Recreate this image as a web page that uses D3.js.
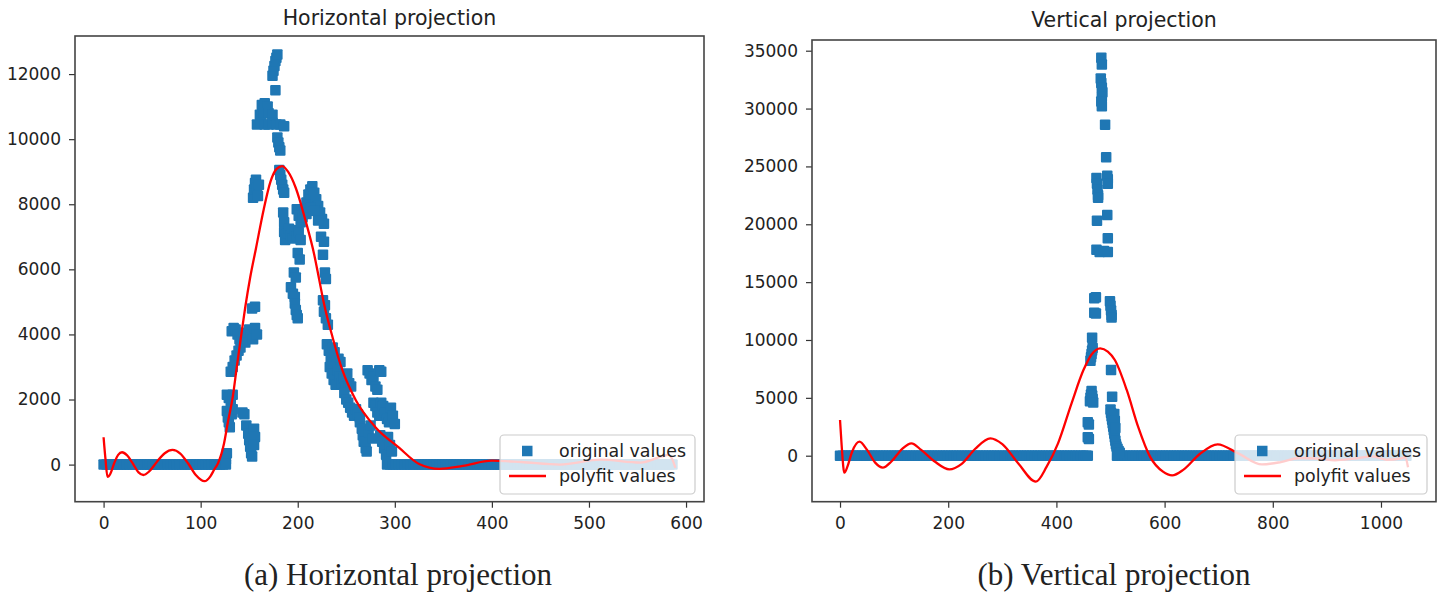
<!DOCTYPE html>
<html><head><meta charset="utf-8">
<script src="https://cdn.jsdelivr.net/npm/d3@7"></script>
<style>
body{margin:0;background:#fff}
svg text{font-family:"DejaVu Sans",sans-serif;fill:#222}
</style>
</head><body>
<svg id="chart" width="1440" height="593"></svg>
<script>
// ---------------- DATA ----------------
const titles = ["Horizontal projection", "Vertical projection"];
const captions = ["(a) Horizontal projection", "(b) Vertical projection"];
const legendLabels = ["original values", "polyfit values"];

const hTicksX = [0, 100, 200, 300, 400, 500, 600];
const hTicksY = [0, 2000, 4000, 6000, 8000, 10000, 12000];
const vTicksX = [0, 200, 400, 600, 800, 1000];
const vTicksY = [0, 5000, 10000, 15000, 20000, 25000, 30000, 35000];

// columns whose projection value is 0 (horizontal projection)
const hBaseX = [0,3,6,9,12,15,18,21,24,27,30,33,36,39,42,45,48,51,54,57,60,63,66,69,72,75,78,81,84,87,90,93,96,99,102,105,108,111,114,117,120,123,126,
292,295,298,301,304,307,310,313,316,319,322,325,328,331,334,337,340,343,346,349,352,355,358,361,364,367,370,373,376,379,382,385,388,391,394,397,400,403,406,409,412,415,418,421,424,427,430,433,436,439,442,445,448,451,454,457,460,463,466,469,472,475,478,481,484,487,490,493,496,499,502,505,508,511,514,517,520,523,526,529,532,535,538,541,544,547,550,553,556,559,562,565,568,571,574,577,580,583,586];

// non-zero columns (horizontal projection): [x, value]
const hPeak = [
[126,150],[127,350],
[127,2150],[129,2050],[131,1950],[133,2150],
[127,1650],[128,1450],[129,1300],[130,1150],[132,1550],[133,1700],
[131,2850],[133,3000],[135,3200],[137,3350],[139,3500],[141,3600],
[132,4100],[134,4200],[136,4150],[138,4000],[140,3850],[142,3800],[144,4050],[146,3750],[150,4150],[152,4000],[154,3850],[156,4200],[158,4000],
[153,4800],[156,4850],
[143,1600],[145,1550],
[147,1200],[149,950],[150,750],[151,550],[152,350],[153,250],[155,1100],[156,850],[155,600],
[154,8200],[155,8450],[156,8650],[157,8750],[158,8500],[159,8250],[160,8600],
[163,11050],[166,11100],[169,11000],[161,10750],[165,10800],[170,10800],[174,10750],
[158,10450],[162,10500],[166,10450],[170,10450],[174,10500],[178,10450],[182,10450],[186,10400],
[174,11950],[175,12100],[176,12250],[177,12400],[178,12500],[179,12600],
[177,11500],
[179,10050],[180,9900],[181,9750],[182,9650],
[181,9050],[182,8900],[183,8750],[184,8600],[185,8450],[186,8350],
[185,7750],
[186,7450],[186,7150],[187,6900],[189,7100],[191,7250],[193,7050],[195,6950],[197,7200],[199,7000],[201,7150],[203,6900],
[199,7850],[201,7650],[203,7450],[205,7600],[207,7850],[209,8050],[211,8300],[213,8450],[215,8550],[217,8350],[219,8150],[221,7950],[223,7750],[225,7550],[227,7400],[209,7700],[213,7900],[217,7800],[221,7500],
[224,7000],[227,6850],
[200,6500],[202,6300],[226,6450],
[196,5900],[198,5750],[228,5900],[229,5700],
[193,5450],[195,5250],[197,5150],
[197,4950],[198,4750],[199,4600],[200,4500],
[226,5050],[228,4900],[227,4700],[229,4500],[231,4300],
[230,3700],[232,3500],[234,3300],[236,3600],[238,3450],[240,3200],[242,3250],[244,3150],
[233,3000],[235,2800],[237,2600],[239,2450],[241,2900],[243,2700],[245,2500],[247,2650],[249,2400],[251,2800],[253,2500],[255,2400],
[248,2200],[250,2000],[252,1900],[254,1750],[256,1600],[258,1500],[260,1700],[262,1550],[264,1450],
[264,1300],[266,1100],[267,900],[268,700],[270,500],[271,400],[273,1000],[275,1200],[277,800],
[272,2900],[274,2800],[276,2600],[278,2700],[280,2400],[282,2300],[284,2900],[286,2850],
[278,1900],[280,1800],[282,1600],[284,1500],[286,1900],[288,1800],[290,1600],[292,1400],[294,1300],[296,1750],[298,1500],[300,1250],
[285,900],[287,700],[289,500],[291,300],[293,850],[295,600],[297,400]
];

// polynomial fit (horizontal projection): [x, value]
const hFit = [[0,840],[2,150],[4,-380],[7,-280],[11,50],[15,300],[19,380],[24,290],[30,40],[36,-240],[41,-320],[47,-210],[55,90],[63,350],[71,450],[79,340],[87,40],[95,-320],[104,-510],[110,-360],[114,-150],[118,50],[124,640],[128,1300],[133,2070],[137,2950],[141.5,3920],[146,4850],[151,5750],[157,6650],[165,7850],[172,8700],[178,9080],[184,9170],[190,9000],[198,8500],[208,7500],[217,6450],[222,5700],[227,4950],[236,3900],[246,2900],[260,1970],[280,1150],[304,530],[325,20],[346,-130],[370,-40],[400,120],[430,80],[470,0],[512,150],[553,60],[575,250],[582,300],[586,150],[589,-100]];

// rows whose projection value is 0 (vertical projection)
const vBaseX = [0,5,10,15,20,25,30,35,40,45,50,55,60,65,70,75,80,85,90,95,100,105,110,115,120,125,130,135,140,145,150,155,160,165,170,175,180,185,190,195,200,205,210,215,220,225,230,235,240,245,250,255,260,265,270,275,280,285,290,295,300,305,310,315,320,325,330,335,340,345,350,355,360,365,370,375,380,385,390,395,400,405,410,415,420,425,430,435,440,445,450,455,458,
512,517,522,527,532,537,542,547,552,557,562,567,572,577,582,587,592,597,602,607,612,617,622,627,632,637,642,647,652,657,662,667,672,677,682,687,692,697,702,707,712,717,722,727,732,737,742,747,752,757,762,767,772,777,782,787,792,797,802,807,812,817,822,827,832,837,842,847,852,857,862,867,872,877,882,887,892,897,902,907,912,917,922,927,932,937,942,947,952,957,962,967,972,977,982,987,992,997,1002,1007,1012,1017,1022,1027,1032,1037,1042,1047];

// non-zero rows (vertical projection): [x, value]
const vPeak = [
[458,1600],[460,1450],
[458,2900],[460,2700],
[462,4700],[463,5000],[464,5300],[465,5600],[466,5200],[467,4900],[468,4600],
[463,8200],[464,8500],[465,8800],[466,9100],[467,9300],
[466,10200],
[470,12350],[473,12300],
[470,13600],[473,13700],
[499,13350],[500,12950],[501,12550],[502,12150],[502,11950],
[501,7400],
[503,5100],
[500,4000],[501,3700],[502,3400],[503,3100],[504,2800],[505,2500],[506,2200],[507,1900],[508,1600],[509,1300],[510,1000],[511,800],[513,600],[515,400],[517,250],[507,3600],[508,3000],[509,2400],
[483,34400],[484,33800],
[482,32600],[483,32200],[484,31800],[485,31400],[484,31000],[483,30600],[484,30200],
[490,28600],
[492,25800],
[474,24000],[475,23500],[476,23000],[477,22500],[477,22300],
[494,24200],[495,23900],[495,23500],
[475,20300],[494,20800],
[474,17800],[480,17600],[488,17700],[495,18800],[495,17600]
];

// polynomial fit (vertical projection): [x, value]
const vFit = [[0,3085],[3,900],[8,-1470],[14,-900],[22,300],[36,1210],[50,500],[65,-600],[79,-1035],[95,-500],[115,600],[132,1070],[150,500],[175,-500],[202,-1180],[225,-700],[250,600],[278,1500],[300,1000],[330,-700],[362,-2240],[382,-950],[403,1070],[428,4530],[450,7400],[465,8750],[481,9280],[495,9000],[508,8270],[530,5680],[551,2510],[573,-80],[597,-1380],[614,-1700],[635,-1200],[665,150],[698,985],[736,200],[780,-750],[815,-550],[850,-200],[885,-250],[915,-400],[950,-250],[985,-50],[1010,-350],[1035,-250],[1045,-150],[1050,-1000]];

// ---------------- DRAWING ----------------
const svg = d3.select("#chart");
const BLUE = "#1f77b4", RED = "#ff0000";

function panel(cfg, idx) {
  const x = d3.scaleLinear().domain(cfg.xDom).range([cfg.left, cfg.right]);
  const y = d3.scaleLinear().domain(cfg.yDom).range([cfg.bottom, cfg.top]);
  const g = svg.append("g");

  const clipId = "clip" + idx;
  svg.append("clipPath").attr("id", clipId).append("rect")
    .attr("x", cfg.left).attr("y", cfg.top)
    .attr("width", cfg.right - cfg.left).attr("height", cfg.bottom - cfg.top);
  const plot = g.append("g").attr("clip-path", `url(#${clipId})`);

  const pts = cfg.base.map(v => [v, 0]).concat(cfg.peak);
  const mw = 10.5, mh = 10.5;
  plot.selectAll("rect.pt").data(pts).join("rect")
    .attr("class", "pt")
    .attr("x", d => x(d[0]) - mw / 2).attr("y", d => y(d[1]) - mh / 2)
    .attr("width", mw).attr("height", mh).attr("rx", 1).attr("fill", BLUE);

  plot.append("path").datum(cfg.fit)
    .attr("d", d3.line().x(d => x(d[0])).y(d => y(d[1])).curve(d3.curveMonotoneX))
    .attr("fill", "none").attr("stroke", RED).attr("stroke-width", 2.3);

  // axes
  const ax = g.append("g").attr("transform", `translate(0,${cfg.bottom})`)
    .call(d3.axisBottom(x).tickValues(cfg.ticksX).tickSize(6).tickPadding(9).tickFormat(d3.format("d")));
  const ay = g.append("g").attr("transform", `translate(${cfg.left},0)`)
    .call(d3.axisLeft(y).tickValues(cfg.ticksY).tickSize(6).tickPadding(8).tickFormat(d3.format("d")));
  [ax, ay].forEach(a => {
    a.select(".domain").remove();
    a.selectAll("line").attr("stroke", "#333").attr("stroke-width", 1.2);
    a.selectAll("text").style("font-size", "17px").style("font-family", "DejaVu Sans").attr("fill", "#222");
  });

  // legend
  const L = cfg.legend;
  const lg = g.append("g");
  lg.append("rect").attr("x", L.x).attr("y", L.y).attr("width", L.w).attr("height", L.h)
    .attr("rx", 4).attr("fill", "#fff").attr("fill-opacity", 0.8)
    .attr("stroke", "#cccccc").attr("stroke-width", 1.2);
  lg.append("rect").attr("x", L.x + 22).attr("y", L.y + 16 - mh / 2).attr("width", mw).attr("height", mh).attr("fill", BLUE);
  lg.append("line").attr("x1", L.x + 9).attr("x2", L.x + 46).attr("y1", L.y + 41).attr("y2", L.y + 41)
    .attr("stroke", RED).attr("stroke-width", 2.4);
  lg.selectAll("text.lt").data(legendLabels).join("text").attr("class", "lt")
    .attr("x", L.x + 59).attr("y", (d, i) => L.y + 16 + i * 25).attr("dy", "0.35em")
    .style("font-size", "17.4px").text(d => d);

  // frame
  g.append("rect").attr("x", cfg.left).attr("y", cfg.top)
    .attr("width", cfg.right - cfg.left).attr("height", cfg.bottom - cfg.top)
    .attr("fill", "none").attr("stroke", "#444").attr("stroke-width", 1.6);

  // title
  g.append("text").attr("x", (cfg.left + cfg.right) / 2).attr("y", cfg.titleY)
    .attr("text-anchor", "middle").style("font-size", "20.5px").text(titles[idx]);

  // caption
  g.append("text").attr("x", cfg.capX).attr("y", 585).attr("text-anchor", "middle")
    .style("font-family", "'Liberation Serif','Times New Roman',serif").style("font-size", "31px")
    .attr("fill", "#111").text(captions[idx]);
}

panel({
  left: 75, right: 704, top: 36, bottom: 501.7,
  xDom: [-29.45, 618.5], yDom: [-1140, 13170],
  ticksX: hTicksX, ticksY: hTicksY,
  base: hBaseX, peak: hPeak, fit: hFit,
  legend: {x: 500, y: 435, w: 195, h: 59},
  titleY: 25, capX: 398
}, 0);

panel({
  left: 812, right: 1436, top: 40, bottom: 501.7,
  xDom: [-51.8, 1101.7], yDom: [-3975, 35925],
  ticksX: vTicksX, ticksY: vTicksY,
  base: vBaseX, peak: vPeak, fit: vFit,
  legend: {x: 1235, y: 435, w: 192, h: 59},
  titleY: 27, capX: 1114
}, 1);
</script>
</body></html>
